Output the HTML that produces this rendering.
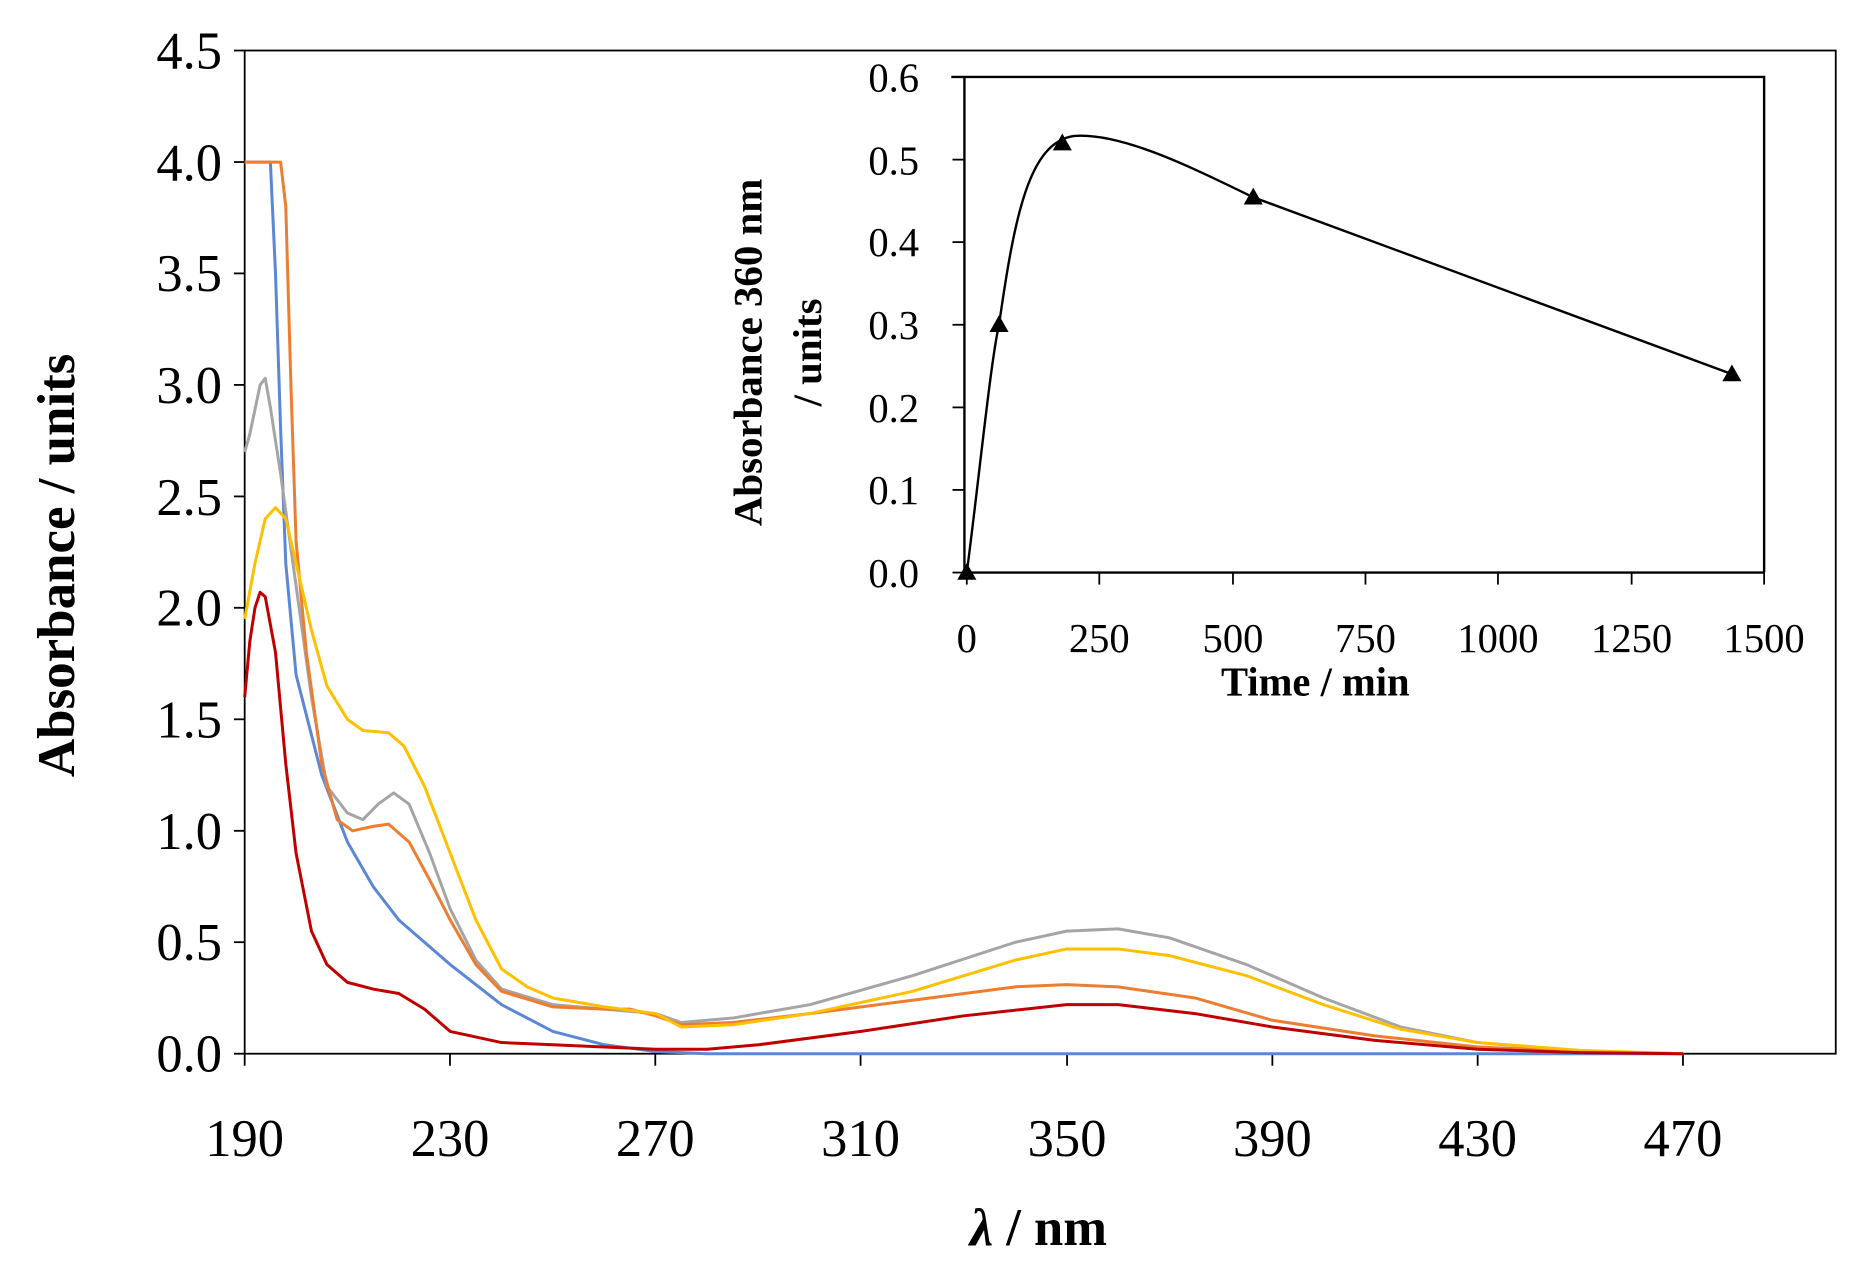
<!DOCTYPE html>
<html><head><meta charset="utf-8"><style>
html,body{margin:0;padding:0;background:#fff;}
svg{display:block;}
text{font-family:"Liberation Serif",serif;fill:#000;}
</style></head><body>
<svg width="1862" height="1263" viewBox="0 0 1560 1050" preserveAspectRatio="none" xmlns="http://www.w3.org/2000/svg">
<rect width="1560" height="1050" fill="#fff"/>
<rect x="205" y="42" width="1333" height="834" fill="none" stroke="#000" stroke-width="1.5"/>
<g stroke="#000" stroke-width="1.5">
<line x1="196" y1="42" x2="205" y2="42"/><line x1="196" y1="134.7" x2="205" y2="134.7"/>
<line x1="196" y1="227.3" x2="205" y2="227.3"/><line x1="196" y1="320" x2="205" y2="320"/>
<line x1="196" y1="412.7" x2="205" y2="412.7"/><line x1="196" y1="505.3" x2="205" y2="505.3"/>
<line x1="196" y1="598" x2="205" y2="598"/><line x1="196" y1="690.7" x2="205" y2="690.7"/>
<line x1="196" y1="783.3" x2="205" y2="783.3"/><line x1="196" y1="876" x2="205" y2="876"/>
<line x1="205" y1="876" x2="205" y2="886"/><line x1="377" y1="876" x2="377" y2="886"/>
<line x1="549" y1="876" x2="549" y2="886"/><line x1="721" y1="876" x2="721" y2="886"/>
<line x1="894" y1="876" x2="894" y2="886"/><line x1="1066" y1="876" x2="1066" y2="886"/>
<line x1="1238" y1="876" x2="1238" y2="886"/><line x1="1410" y1="876" x2="1410" y2="886"/>
</g>
<g font-size="44" text-anchor="end">
<text x="186" y="57">4.5</text><text x="186" y="150">4.0</text><text x="186" y="242">3.5</text>
<text x="186" y="335">3.0</text><text x="186" y="428">2.5</text><text x="186" y="520">2.0</text>
<text x="186" y="613">1.5</text><text x="186" y="706">1.0</text><text x="186" y="798">0.5</text>
<text x="186" y="891">0.0</text>
</g>
<g font-size="44" text-anchor="middle">
<text x="205" y="961">190</text><text x="377" y="961">230</text><text x="549" y="961">270</text>
<text x="721" y="961">310</text><text x="894" y="961">350</text><text x="1066" y="961">390</text>
<text x="1238" y="961">430</text><text x="1410" y="961">470</text>
</g>
<text x="870" y="1035" font-size="44" font-weight="bold" text-anchor="middle"><tspan font-style="italic">λ</tspan> / nm</text>
<text transform="translate(62,470) rotate(-90)" font-size="44" font-weight="bold" text-anchor="middle">Absorbance / units</text>

<g transform="translate(205,876) scale(4.304,-185.3) translate(-190,0)" fill="none" stroke-width="3" stroke-linejoin="round">
<polyline vector-effect="non-scaling-stroke" stroke="#5b87d6" points="190,4 195,4 196,3.5 197,2.8 198,2.2 200,1.7 205,1.25 210,0.95 215,0.75 220,0.6 230,0.4 240,0.22 250,0.1 260,0.04 270,0.01 280,0 470,0"/>
<polyline vector-effect="non-scaling-stroke" stroke="#a5a5a5" points="190,2.7 191,2.78 193,3 194,3.03 195,2.9 197,2.6 200,2.1 203,1.6 206,1.2 210,1.08 213,1.05 216,1.12 219,1.17 222,1.12 226,0.9 230,0.65 235,0.42 240,0.29 250,0.22 260,0.2 270,0.18 275,0.14 285,0.16 300,0.22 320,0.35 340,0.5 350,0.55 360,0.56 370,0.52 385,0.4 400,0.25 415,0.12 430,0.05 450,0.01 470,0"/>
<polyline vector-effect="non-scaling-stroke" stroke="#ed7d31" points="190,4 197,4 198,3.8 199,3 200,2.3 202,1.8 205,1.3 208,1.05 211,1 215,1.02 218,1.03 222,0.95 226,0.78 230,0.6 235,0.4 240,0.28 250,0.21 260,0.2 265,0.2 270,0.17 275,0.13 285,0.14 300,0.18 320,0.24 340,0.3 350,0.31 360,0.3 375,0.25 390,0.15 410,0.08 430,0.03 450,0.01 470,0"/>
<polyline vector-effect="non-scaling-stroke" stroke="#ffc000" points="190,1.95 192,2.2 194,2.4 196,2.45 198,2.4 200,2.2 203,1.9 206,1.65 210,1.5 213,1.45 218,1.44 221,1.38 225,1.2 230,0.9 235,0.6 240,0.38 245,0.3 250,0.25 260,0.21 270,0.18 275,0.12 285,0.13 300,0.18 320,0.28 340,0.42 350,0.47 360,0.47 370,0.44 385,0.35 400,0.22 415,0.11 430,0.05 450,0.015 470,0"/>
<polyline vector-effect="non-scaling-stroke" stroke="#c00000" points="190,1.6 191,1.85 192,2 193,2.07 194,2.05 196,1.8 198,1.3 200,0.9 203,0.55 206,0.4 210,0.32 215,0.29 220,0.27 225,0.2 230,0.1 240,0.05 250,0.04 260,0.03 270,0.02 280,0.02 290,0.04 310,0.1 330,0.17 350,0.22 360,0.22 375,0.18 390,0.12 410,0.06 430,0.02 450,0.005 470,0"/>
</g>

<rect x="805" y="52" width="690" height="450" fill="#fff"/>
<g stroke="#000" stroke-width="2" fill="none">
<polyline points="797,64 1478,64 1478,476"/>
<line x1="808" y1="64" x2="808" y2="476"/>
<line x1="808" y1="476" x2="1478" y2="476"/>
</g>
<g stroke="#000" stroke-width="1.5">
<line x1="798" y1="64" x2="808" y2="64"/><line x1="798" y1="132.7" x2="808" y2="132.7"/>
<line x1="798" y1="201.3" x2="808" y2="201.3"/><line x1="798" y1="270" x2="808" y2="270"/>
<line x1="798" y1="338.7" x2="808" y2="338.7"/><line x1="798" y1="407.3" x2="808" y2="407.3"/>
<line x1="798" y1="476" x2="808" y2="476"/>
<line x1="810" y1="476" x2="810" y2="486"/><line x1="921" y1="476" x2="921" y2="486"/>
<line x1="1033" y1="476" x2="1033" y2="486"/><line x1="1144" y1="476" x2="1144" y2="486"/>
<line x1="1255" y1="476" x2="1255" y2="486"/><line x1="1367" y1="476" x2="1367" y2="486"/>
<line x1="1478" y1="476" x2="1478" y2="486"/>
</g>
<g font-size="34" text-anchor="end">
<text x="770" y="76">0.6</text><text x="770" y="145">0.5</text><text x="770" y="213">0.4</text>
<text x="770" y="282">0.3</text><text x="770" y="351">0.2</text><text x="770" y="419">0.1</text>
<text x="770" y="488">0.0</text>
</g>
<g font-size="34" text-anchor="middle">
<text x="810" y="542">0</text><text x="921" y="542">250</text><text x="1033" y="542">500</text>
<text x="1144" y="542">750</text><text x="1255" y="542">1000</text><text x="1367" y="542">1250</text>
<text x="1478" y="542">1500</text>
</g>
<text x="1102" y="578" font-size="34" font-weight="bold" text-anchor="middle">Time / min</text>
<text transform="translate(638,293) rotate(-90)" font-size="34" font-weight="bold" text-anchor="middle">Absorbance 360 nm</text>
<text transform="translate(688,293) rotate(-90)" font-size="34" font-weight="bold" text-anchor="middle">/ units</text>
<path d="M810,476 C820,400 830,300 837,270 C850,180 862,118 900,113 C940,110 1000,140 1050,164 L1451,311" fill="none" stroke="#000" stroke-width="2"/>
<g fill="#000">
<polygon points="810,468 802,482 818,482"/>
<polygon points="837,262 829,276 845,276"/>
<polygon points="890,111 882,125 898,125"/>
<polygon points="1050,156 1042,170 1058,170"/>
<polygon points="1451,303 1443,317 1459,317"/>
</g>
</svg>
</body></html>
